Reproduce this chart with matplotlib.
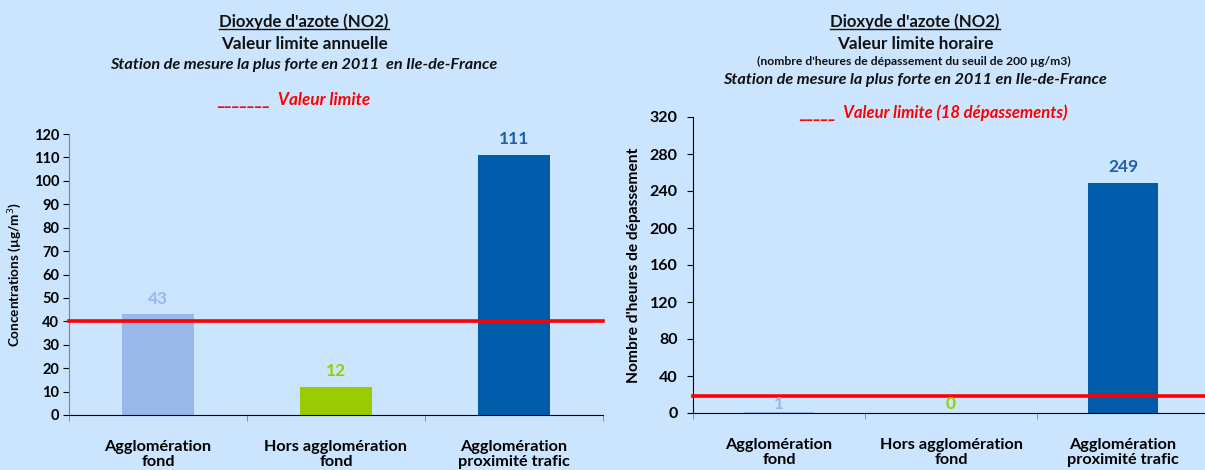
import matplotlib
matplotlib.use("Agg")
import matplotlib.pyplot as plt

plt.rcParams['font.family'] = ['Lato', 'DejaVu Sans']

# Data
categories = ["Agglomération\nfond", "Hors agglomération\nfond", "Agglomération\nproximité trafic"]
annual_values = [43, 12, 111]
annual_limit = 40
hourly_values = [1, 0, 249]
hourly_limit = 18
bar_colors = ["#98B8EA", "#99CC00", "#005CAA"]
label_colors = ["#98B8EA", "#99CC00", "#1F5FA8"]

bg = "#CCE5FE"
W, H = 1205, 470
fig = plt.figure(figsize=(W / 100, H / 100), dpi=100, facecolor=bg)


def draw_panel(ax, values, limit, ymax, ystep, tick_size, tick_pad):
    ax.set_facecolor(bg)
    x = list(range(len(values)))
    ax.bar(x, values, width=0.405, color=bar_colors, zorder=2)
    for xi, v, c in zip(x, values, label_colors):
        small = v < 0.03 * ymax
        ax.annotate(f"{v}", (xi, v if not small else 0),
                    xytext=(0, 5.5 if not small else 0.5), textcoords="offset points",
                    ha="center", va="bottom", color=c, fontsize=12.5,
                    fontweight="bold", zorder=4)
    ax.plot([0, 1], [limit, limit], transform=ax.get_yaxis_transform(),
            color="#FF0000", lw=2.6, clip_on=False, zorder=3)
    ax.set_xlim(-0.5, len(values) - 0.5)
    ax.set_ylim(0, ymax)
    ax.set_yticks(range(0, ymax + 1, ystep))
    ax.set_xticks([i - 0.5 for i in range(len(values) + 1)], minor=True)
    ax.set_xticks(x)
    ax.set_xticklabels(categories, fontsize=11.7, fontweight="bold", linespacing=1.05)
    ax.tick_params(axis="x", which="major", length=0, pad=18)
    ax.tick_params(axis="x", which="minor", length=4, color="#808080")
    ax.tick_params(axis="y", length=4, labelsize=tick_size, pad=tick_pad)
    for lab in ax.get_yticklabels():
        lab.set_fontweight("bold")
    ax.spines["top"].set_visible(False)
    ax.spines["right"].set_visible(False)
    ax.spines["bottom"].set_color("black")


# Annual limit panel
ax1 = fig.add_axes([69 / W, 55 / H, 534 / W, 281 / H])
draw_panel(ax1, annual_values, annual_limit, 120, 10, 10.5, 3)
ax1.spines["left"].set_color("#808080")
ax1.set_ylabel("Concentrations (µg/m$^3$)", fontsize=9.7, fontweight="bold", labelpad=7)

# Hourly limit panel
ax2 = fig.add_axes([693 / W, 57 / H, 516 / W, 296 / H])
draw_panel(ax2, hourly_values, hourly_limit, 320, 40, 11.5, 7)
ax2.spines["left"].set_color("black")
ax2.set_ylabel("Nombre d'heures de dépassement", fontsize=11.2, fontweight="bold", labelpad=6)

# Titles
dark = "#111111"
red = "#FF0000"


def line(xc, y, s, size, italic=False, color=dark, underline=False):
    t = fig.text(xc / W, 1 - y / H, s, fontsize=size, fontweight="bold",
                 style="italic" if italic else "normal", ha="center", va="center",
                 color=color)
    if underline:
        fig.canvas.draw()
        bb = t.get_window_extent().transformed(fig.transFigure.inverted())
        yl = bb.y0 + 0.1 * (bb.y1 - bb.y0)
        fig.add_artist(plt.Line2D([bb.x0, bb.x1], [yl, yl], color=dark, lw=1.0))
    return t


line(304, 22, "Dioxyde d'azote (NO2)", 12.1, underline=True)
line(304, 44, "Valeur limite annuelle", 12.3)
line(304, 65, "Station de mesure la plus forte en 2011  en Ile-de-France", 11.7, italic=True)
line(294, 100, "_______  Valeur limite", 12.3, italic=True, color=red)

line(915, 22, "Dioxyde d'azote (NO2)", 12.1, underline=True)
line(915, 44, "Valeur limite horaire", 12.3)
line(914, 61, "(nombre d'heures de dépassement du seuil de 200 µg/m3)", 8.7)
line(915, 80, "Station de mesure la plus forte en 2011 en Ile-de-France", 11.7, italic=True)
line(933, 113, "_____  Valeur limite (18 dépassements)", 12.0, italic=True, color=red)

fig.savefig("out.png", dpi=100, facecolor=bg)
